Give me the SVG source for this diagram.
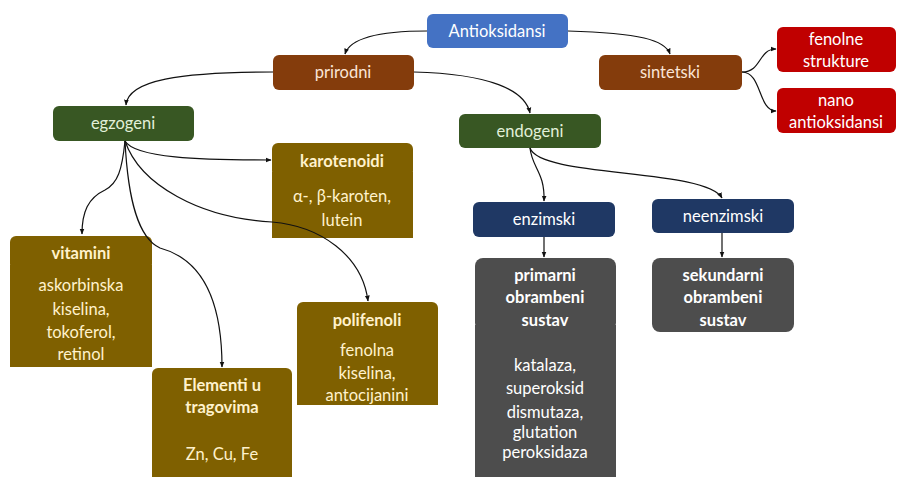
<svg xmlns="http://www.w3.org/2000/svg" width="907" height="477" viewBox="0 0 907 477">
<defs>
<marker id="arr" viewBox="0 0 10 10" refX="9" refY="5" markerWidth="6" markerHeight="6" orient="auto" markerUnits="userSpaceOnUse"><path d="M0,1 L10,5 L0,9 z" fill="#111"/></marker>
<style>
text{font-family:Lato,"Open Sans","Liberation Sans",sans-serif;font-size:16.5px;text-anchor:middle}
.b{font-weight:bold}
.blue{fill:#4472C4}.brown{fill:#843C0C}.red{fill:#C00000}.green{fill:#385723}.olive{fill:#7F6000}.navy{fill:#1F3864}.gray{fill:#4D4D4D}
.tw{fill:#FFFFFF}.tc{fill:#FFF2CC}.tb{fill:#FBE5D6}.tg{fill:#E2F0D9}
.c{fill:none;stroke:#111;stroke-width:1.2;marker-end:url(#arr)}
</style>
</defs>
<rect width="907" height="477" fill="#FFFFFF"/>
<g id="antioksidansi"><rect class="blue" x="427" y="14" width="141" height="34" rx="6"/><text class="tw" x="497" y="37">Antioksidansi</text></g>
<g id="prirodni"><rect class="brown" x="273" y="55" width="141" height="35" rx="6"/><text class="tb" x="343" y="78">prirodni</text></g>
<g id="sintetski"><rect class="brown" x="599" y="55" width="143" height="35" rx="6"/><text class="tb" x="670" y="78">sintetski</text></g>
<g id="fenolne"><rect class="red" x="777" y="27" width="119" height="45" rx="6"/><text class="tw" x="836" y="45">fenolne</text><text class="tw" x="836" y="67">strukture</text></g>
<g id="nano"><rect class="red" x="777" y="88" width="119" height="45" rx="6"/><text class="tw" x="836" y="106">nano</text><text class="tw" x="836" y="128">antioksidansi</text></g>
<g id="egzogeni"><rect class="green" x="53" y="106" width="141" height="35" rx="6"/><text class="tg" x="123" y="129">egzogeni</text></g>
<g id="endogeni"><rect class="green" x="459" y="114" width="142" height="34" rx="6"/><text class="tg" x="530" y="137">endogeni</text></g>
<g id="karotenoidi"><rect class="olive" x="272" y="143" width="141" height="34" rx="6"/><rect class="olive" x="272" y="172" width="141" height="66"/><text class="tc b" x="342" y="167">karotenoidi</text><text class="tc" x="342" y="202">α-, β-karoten,</text><text class="tc" x="342" y="226">lutein</text></g>
<g id="vitamini"><rect class="olive" x="10" y="236" width="142" height="34" rx="6"/><rect class="olive" x="10" y="265" width="142" height="102"/><text class="tc b" x="81" y="259">vitamini</text><text class="tc" x="81" y="291">askorbinska</text><text class="tc" x="81" y="315">kiselina,</text><text class="tc" x="81" y="338">tokoferol,</text><text class="tc" x="81" y="360">retinol</text></g>
<g id="elementi"><rect class="olive" x="152" y="368" width="140" height="52" rx="6"/><rect class="olive" x="152" y="414" width="140" height="63"/><text class="tc b" x="222" y="391">Elementi u</text><text class="tc b" x="222" y="413">tragovima</text><text class="tc" x="222" y="460">Zn, Cu, Fe</text></g>
<g id="polifenoli"><rect class="olive" x="297" y="302" width="141" height="32" rx="6"/><rect class="olive" x="297" y="328" width="141" height="77"/><text class="tc b" x="367" y="326">polifenoli</text><text class="tc" x="367" y="356">fenolna</text><text class="tc" x="367" y="379">kiselina,</text><text class="tc" x="367" y="401">antocijanini</text></g>
<g id="enzimski"><rect class="navy" x="473" y="202" width="142" height="35" rx="6"/><text class="tw" x="544" y="225">enzimski</text></g>
<g id="neenzimski"><rect class="navy" x="652" y="199" width="142" height="34" rx="6"/><text class="tw" x="723" y="222">neenzimski</text></g>
<g id="primarni"><rect class="gray" x="475" y="258" width="141" height="73" rx="8"/><rect class="gray" x="475" y="325" width="141" height="152"/><text class="tw b" x="545" y="281">primarni</text><text class="tw b" x="545" y="303">obrambeni</text><text class="tw b" x="545" y="326">sustav</text><text class="tw" x="545" y="371">katalaza,</text><text class="tw" x="545" y="394">superoksid</text><text class="tw" x="545" y="418">dismutaza,</text><text class="tw" x="545" y="438">glutation</text><text class="tw" x="545" y="458">peroksidaza</text></g>
<g id="sekundarni"><rect class="gray" x="652" y="258" width="142" height="74" rx="8"/><text class="tw b" x="723" y="281">sekundarni</text><text class="tw b" x="723" y="303">obrambeni</text><text class="tw b" x="723" y="326">sustav</text></g>
<g id="connectors">
<path class="c" d="M427,31 C380,31 350,38 345,54"/>
<path class="c" d="M568,31 C640,33 665,40 670,54"/>
<path class="c" d="M273,72 C180,72 128,80 126,105"/>
<path class="c" d="M414,72 C490,74 525,90 530,113"/>
<path class="c" d="M742,72 C762,72 758,49 776,49"/>
<path class="c" d="M742,72 C762,72 758,111 776,111"/>
<path class="c" d="M125,141 C135,158 200,160 271,160"/>
<path class="c" d="M125,141 C122,170 118,183 105,190 C88,198 82,212 82,234"/>
<path class="c" d="M125,141 C128,200 138,238 160,248 C212,262 222,320 222,367"/>
<path class="c" d="M125,141 C140,185 200,218 272,222 C320,226 362,255 368,301"/>
<path class="c" d="M530,148 C532,168 545,172 544,201"/>
<path class="c" d="M530,148 C540,178 705,168 722,198"/>
<path class="c" d="M544,237 L544,257"/>
<path class="c" d="M722,233 L722,257"/>
</g>
</svg>
